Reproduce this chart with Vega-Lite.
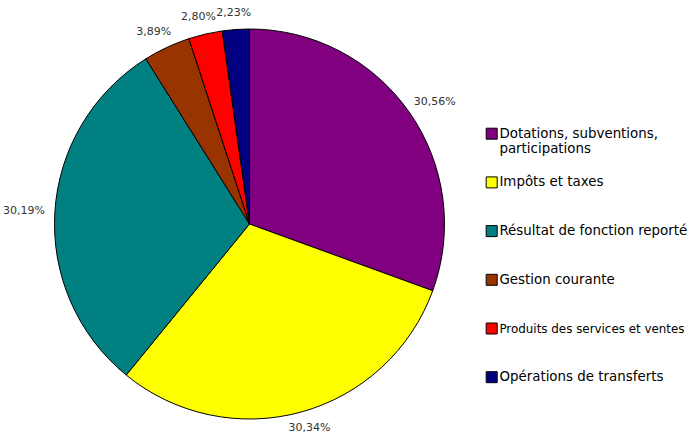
{
  "$schema": "https://vega.github.io/schema/vega-lite/v6.json",
  "width": 499,
  "height": 424,
  "autosize": {"type": "none"},
  "padding": {"left": 0, "top": 12, "right": 192, "bottom": 0},
  "background": "white",
  "config": {
    "view": {"stroke": null},
    "font": "DejaVu Sans",
    "locale": {"number": {"decimal": ",", "thousands": " ", "grouping": [3], "currency": ["", " €"]}}
  },
  "data": {
    "values": [
      {"k": 1, "poste": "Dotations, subventions, participations", "part": 0.3056},
      {"k": 2, "poste": "Impôts et taxes", "part": 0.3034},
      {"k": 3, "poste": "Résultat de fonction reporté", "part": 0.3019},
      {"k": 4, "poste": "Gestion courante", "part": 0.0389},
      {"k": 5, "poste": "Produits des services et ventes", "part": 0.0280},
      {"k": 6, "poste": "Opérations de transferts", "part": 0.0223}
    ]
  },
  "encoding": {
    "theta": {"field": "part", "type": "quantitative", "stack": true},
    "order": {"field": "k", "type": "quantitative"}
  },
  "layer": [
    {
      "mark": {"type": "arc", "outerRadius": 195, "stroke": "black", "strokeWidth": 1},
      "encoding": {
        "color": {
          "field": "poste",
          "type": "nominal",
          "sort": null,
          "scale": {
            "domain": ["Dotations, subventions, participations", "Impôts et taxes", "Résultat de fonction reporté", "Gestion courante", "Produits des services et ventes", "Opérations de transferts"],
            "range": ["#800080", "#FFFF00", "#008080", "#993300", "#FF0000", "#000080"]
          },
          "legend": {
            "title": null,
            "orient": "none",
            "legendX": 485,
            "legendY": 115,
            "padding": 0,
            "symbolType": "square",
            "symbolSize": 121,
            "symbolStrokeColor": "black",
            "symbolStrokeWidth": 1,
            "symbolOpacity": 1,
            "labelFont": "DejaVu Sans",
            "labelFontSize": 13.4,
            "labelColor": "black",
            "labelLimit": 300,
            "labelOffset": 1,
            "rowPadding": 18.7,
            "gridAlign": "all",
            "labelExpr": "datum.value == 'Dotations, subventions, participations' ? ['Dotations, subventions,', 'participations'] : datum.value",
            "encode": {
              "labels": {
                "update": {
                  "fontSize": {"signal": "datum.value == 'Produits des services et ventes' ? 11.9 : 13.4"}
                }
              }
            }
          }
        }
      }
    },
    {
      "mark": {
        "type": "text",
        "radius": 208,
        "font": "DejaVu Sans",
        "fontSize": 11,
        "color": "#333",
        "dx": {"expr": "18 * sin(PI * (datum.part_start + datum.part_end))"},
        "dy": {"expr": "-4 * cos(PI * (datum.part_start + datum.part_end))"}
      },
      "encoding": {
        "text": {"field": "part", "type": "quantitative", "format": ".2%"}
      }
    }
  ]
}
